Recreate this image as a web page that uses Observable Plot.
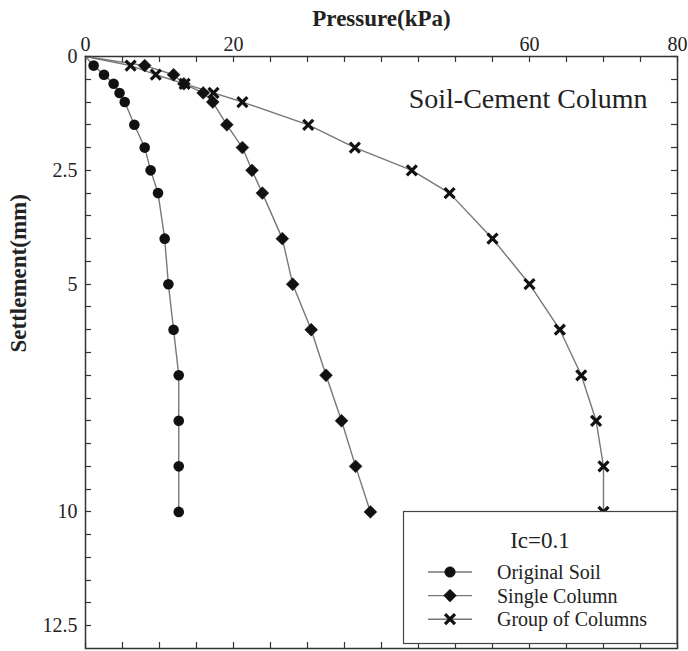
<!DOCTYPE html>
<html>
<head>
<meta charset="utf-8">
<script src="https://cdn.jsdelivr.net/npm/d3@7"></script>
<script src="https://cdn.jsdelivr.net/npm/@observablehq/plot@0.6"></script>
<style>
  html, body { margin: 0; padding: 0; background: #fff; }
  #chart { position: relative; width: 688px; height: 651px; }
</style>
</head>
<body>
<div id="chart"></div>
<script>
// Settlement levels (mm)
const settlement = [0, 0.2, 0.4, 0.6, 0.8, 1.0, 1.5, 2.0, 2.5, 3.0, 4, 5, 6, 7, 8, 9, 10];
// Pressure (kPa) for each series at those settlements
const originalSoil = [0, 1.1, 2.5, 3.8, 4.6, 5.3, 6.6, 8.0, 8.8, 9.8, 10.7, 11.2, 11.9, 12.6, 12.6, 12.6, 12.6];
const singleColumn = [0, 8.0, 11.9, 13.3, 15.9, 17.2, 19.1, 21.2, 22.5, 23.9, 26.6, 28.0, 30.5, 32.5, 34.6, 36.5, 38.5];
const groupColumns = [0, 6.1, 9.5, 13.4, 17.3, 21.2, 30.1, 36.4, 44.1, 49.2, 55.0, 60.0, 64.1, 67.0, 69.0, 70.0, 70.0];

const seriesNames = ["Original Soil", "Single Column", "Group of Columns"];
const seriesValues = [originalSoil, singleColumn, groupColumns];
const seriesSymbols = ["circle", "diamond2", "times"];

const xTickLabels = [0, 20, 60, 80];
const yTickLabels = [0, 2.5, 5, 10, 12.5];
const xTicks = d3.range(0, 81, 5);
const yTicks = d3.range(0, 26).map(i => i * 0.5);

const titleText = "Soil-Cement Column";
const legendTitle = "Ic=0.1";

const rows = seriesNames.flatMap((name, k) =>
  settlement.map((s, i) => ({series: name, pressure: seriesValues[k][i], settlement: s}))
);
const pts = name => rows.filter(d => d.series === name && d.settlement > 0);

const font = "'Liberation Serif', 'Times New Roman', serif";
const W = 688, H = 651, mL = 85, mR = 11, mT = 56, mB = 3;
const tick = 6;

const plot = Plot.plot({
  width: W,
  height: H,
  marginLeft: mL,
  marginRight: mR,
  marginTop: mT,
  marginBottom: mB,
  style: {fontFamily: font, fontSize: "20px"},
  x: {domain: [0, 80], axis: null},
  y: {domain: [0, 13], reverse: true, axis: null},
  marks: [
    Plot.frame({stroke: "#333", strokeWidth: 1.5}),
    Plot.axisX({anchor: "top", ticks: xTickLabels, tickSize: 0, tickPadding: 6, label: null, fontSize: 20, fill: "#222", tickFormat: d => String(d)}),
    Plot.axisY({anchor: "left", ticks: yTickLabels, tickSize: 0, tickPadding: 8, label: null, fontSize: 20, fill: "#222", tickFormat: d => String(d)}),
    Plot.line(rows, {x: "pressure", y: "settlement", z: "series", stroke: "#777", strokeWidth: 1.4}),
    Plot.dot(pts("Original Soil"), {x: "pressure", y: "settlement", symbol: "circle", r: 5.3, fill: "#111"}),
    Plot.dot(pts("Single Column"), {x: "pressure", y: "settlement", symbol: "diamond2", r: 5.8, fill: "#111", stroke: "#111", strokeWidth: 0.5}),
    Plot.dot(pts("Group of Columns"), {x: "pressure", y: "settlement", symbol: "times", r: 4.6, stroke: "#111", strokeWidth: 3.2}),
    Plot.text([titleText], {frameAnchor: "top-right", dx: -30, dy: 43, textAnchor: "end", lineAnchor: "middle", fontSize: 28, fill: "#222"}),
    Plot.text(["Pressure(kPa)"], {frameAnchor: "top", dy: -38, lineAnchor: "middle", fontSize: 23, fontWeight: "bold", fill: "#222"}),
    Plot.text(["Settlement(mm)"], {frameAnchor: "left", dx: -67, rotate: -90, lineAnchor: "middle", fontSize: 23, fontWeight: "bold", fill: "#222"})
  ]
});

document.getElementById("chart").appendChild(plot);
plot.setAttribute("font-family", font);
plot.querySelectorAll("text").forEach(t => t.setAttribute("font-family", font));

const svg = d3.select(plot);
const sx = plot.scale("x"), sy = plot.scale("y");
const x0 = sx.apply(0), x1 = sx.apply(80), y0 = sy.apply(0), y1 = sy.apply(13);

// Inward ticks on all four sides, positioned with Plot's own scales
const tg = svg.append("g");
xTicks.forEach(v => {
  const px = Math.round(sx.apply(v)) + 0.5;
  tg.append("line").attr("x1", px).attr("x2", px).attr("y1", y0).attr("y2", y0 + tick)
    .attr("stroke", "#333").attr("stroke-width", 1.2);
  tg.append("line").attr("x1", px).attr("x2", px).attr("y1", y1 - tick).attr("y2", y1)
    .attr("stroke", "#333").attr("stroke-width", 1.2);
});
yTicks.forEach(v => {
  const py = Math.round(sy.apply(v)) + 0.5;
  tg.append("line").attr("x1", x0).attr("x2", x0 + tick).attr("y1", py).attr("y2", py)
    .attr("stroke", "#333").attr("stroke-width", 1.2);
  tg.append("line").attr("x1", x1 - tick).attr("x2", x1).attr("y1", py).attr("y2", py)
    .attr("stroke", "#333").attr("stroke-width", 1.2);
});

// Legend box inside the plot area
const g = svg.append("g");
g.append("rect").attr("x", 403.5).attr("y", 511.5).attr("width", 273.5).attr("height", 132)
  .attr("fill", "#fff").attr("stroke", "#444").attr("stroke-width", 1.2);
g.append("text").attr("x", 540).attr("y", 548).attr("text-anchor", "middle")
  .attr("font-family", font).attr("font-size", 23).attr("fill", "#222").text(legendTitle);
const symbolTypes = {circle: d3.symbolCircle, diamond2: d3.symbolDiamond2, times: d3.symbolTimes};
const symbolR = [5.3, 5.8, 4.6];
seriesNames.forEach((name, k) => {
  const y = 572 + k * 23.6;
  g.append("line").attr("x1", 428).attr("x2", 472).attr("y1", y).attr("y2", y)
    .attr("stroke", "#777").attr("stroke-width", 1.4);
  const path = d3.symbol(symbolTypes[seriesSymbols[k]], Math.PI * symbolR[k] * symbolR[k])();
  const sym = g.append("path").attr("d", path).attr("transform", `translate(450,${y})`);
  if (seriesSymbols[k] === "times") sym.attr("fill", "none").attr("stroke", "#111").attr("stroke-width", 3.2);
  else sym.attr("fill", "#111").attr("stroke", "#111").attr("stroke-width", 0.5);
  g.append("text").attr("x", 497).attr("y", y + 7).attr("text-anchor", "start")
    .attr("font-family", font).attr("font-size", 20).attr("fill", "#222").text(name);
});
</script>
</body>
</html>
